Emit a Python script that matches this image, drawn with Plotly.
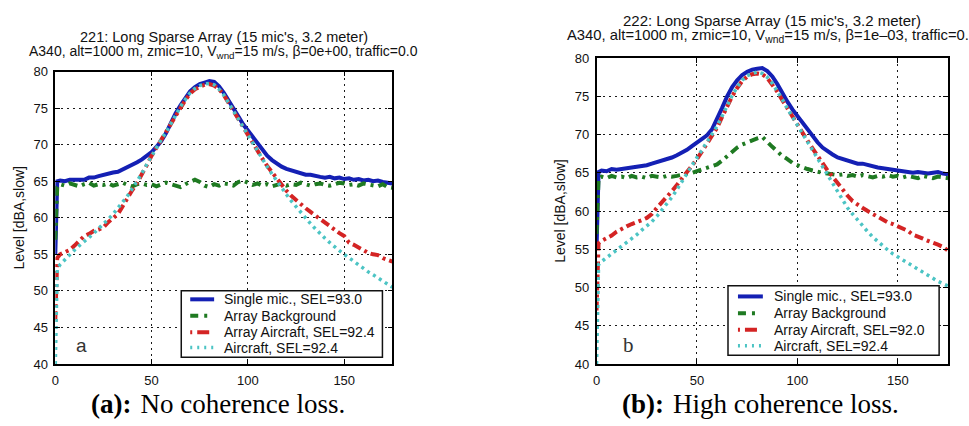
import plotly.graph_objects as go

W, H = 969, 426

# Shared sampling positions along the flyover (time axis, s)
x_pos = [0, 1, 2.5, 5, 7.5, 10, 12.5, 15, 17.5, 20, 22.5, 25, 27.5, 30, 32.5, 35,
         37.5, 40, 42.5, 45, 47.5, 50, 52.5, 55, 57.5, 60, 62.5, 65, 67.5, 70,
         72.5, 75, 77.5, 80, 82.5, 85, 87.5, 90, 92.5, 95, 97.5, 100, 102.5, 105,
         107.5, 110, 112.5, 115, 117.5, 120, 122.5, 125, 127.5, 130, 132.5, 135,
         137.5, 140, 142.5, 145, 147.5, 150, 152.5, 155, 157.5, 160, 162.5, 165,
         167.5, 170, 172.5, 175]

# ---- (a) no coherence loss ----
a_single = [55.0, 65.0, 65.1, 65.0, 65.2, 65.2, 65.3, 65.2, 65.5, 65.5, 65.7, 65.9,
            66.0, 66.2, 66.3, 66.6, 66.9, 67.2, 67.6, 68.0, 68.5, 69.0, 69.7, 70.5,
            71.6, 73.0, 74.3, 75.4, 76.4, 77.3, 77.9, 78.3, 78.5, 78.7, 78.6, 78.0,
            77.1, 76.1, 75.0, 73.9, 72.8, 71.9, 71.0, 70.1, 69.3, 68.5, 67.9, 67.4,
            67.0, 66.7, 66.5, 66.3, 66.1, 65.9, 65.9, 65.7, 65.6, 65.5, 65.6, 65.4,
            65.5, 65.3, 65.4, 65.2, 65.3, 65.1, 65.2, 65.0, 65.1, 64.9, 64.8, 64.7]
a_background = [57.0, 64.2, 64.6, 64.4, 64.7, 64.5, 64.3, 64.6, 64.8, 64.4, 64.6,
                64.5, 64.7, 64.4, 64.6, 64.8, 64.5, 64.3, 64.6, 64.7, 64.5, 64.6,
                64.3, 64.5, 64.8, 64.6, 64.4, 64.2, 64.6, 64.9, 65.2, 64.9, 64.4,
                64.2, 64.6, 64.4, 64.7, 64.6, 64.4, 64.9, 65.1, 64.8, 64.5, 64.7,
                64.4, 64.6, 64.3, 64.5, 64.7, 64.4, 64.6, 64.5, 64.8, 64.6, 64.4,
                64.6, 64.7, 64.5, 64.4, 64.6, 64.8, 64.7, 64.5, 64.6, 64.4, 64.7,
                64.6, 64.5, 64.3, 64.6, 64.2, 64.1]
a_array_ac = [46.0, 54.5, 55.0, 55.3, 55.6, 56.2, 56.8, 57.5, 57.8, 58.2, 58.4,
              58.7, 59.4, 60.0, 60.5, 61.6, 62.8, 63.8, 64.8, 65.9, 67.2, 68.5,
              69.6, 70.6, 71.6, 72.8, 74.0, 75.1, 76.1, 77.0, 77.6, 77.9, 78.2,
              78.3, 78.1, 77.6, 76.8, 75.7, 74.6, 73.4, 72.3, 71.3, 70.2, 69.2,
              68.1, 67.1, 66.2, 65.4, 64.6, 63.7, 63.0, 62.4, 61.8, 61.3, 60.8,
              60.3, 59.9, 59.4, 58.9, 58.3, 57.9, 57.5, 56.6, 56.3, 55.9, 55.5,
              55.2, 55.0, 54.9, 54.5, 54.3, 54.0]
a_aircraft = [40.0, 53.0, 53.6, 54.3, 55.0, 55.6, 56.2, 56.7, 57.3, 57.9, 58.5,
              59.1, 59.8, 60.5, 61.3, 62.1, 63.0, 64.0, 65.0, 66.1, 67.3, 68.5,
              69.6, 70.7, 71.7, 72.9, 74.1, 75.2, 76.2, 77.1, 77.7, 78.1, 78.3,
              78.4, 78.2, 77.6, 76.8, 75.7, 74.6, 73.4, 72.3, 71.2, 70.1, 69.1,
              68.0, 67.0, 66.0, 65.0, 64.1, 63.2, 62.3, 61.5, 60.7, 59.9, 59.2,
              58.5, 57.8, 57.2, 56.6, 56.0, 55.5, 55.0, 54.5, 54.0, 53.5, 53.1,
              52.6, 52.2, 51.8, 51.3, 50.9, 50.5]

# ---- (b) high coherence loss ----
b_single = [55.0, 65.1, 65.3, 65.2, 65.5, 65.4, 65.5, 65.6, 65.6, 65.8, 65.9, 66.0,
            66.2, 66.4, 66.5, 66.8, 67.0, 67.3, 67.6, 68.0, 68.5, 69.0, 69.4, 69.9,
            70.7, 72.0, 73.5, 75.0, 76.2, 77.1, 77.8, 78.2, 78.5, 78.6, 78.7, 78.3,
            77.6, 76.6, 75.4, 74.3, 73.3, 72.4, 71.5, 70.6, 69.8, 69.0, 68.3, 67.8,
            67.4, 67.0, 66.8, 66.6, 66.4, 66.2, 66.2, 66.0, 65.9, 65.7, 65.6, 65.5,
            65.4, 65.3, 65.3, 65.2, 65.0, 65.1, 65.0, 64.9, 65.0, 65.1, 64.9, 64.8]
b_background = [57.0, 64.3, 64.5, 64.3, 64.6, 64.4, 64.5, 64.3, 64.6, 64.4, 64.5,
                64.3, 64.6, 64.5, 64.4, 64.6, 64.5, 64.6, 64.8, 64.9, 65.0, 65.2,
                65.4, 65.6, 65.8, 66.1, 66.6, 67.2, 67.8, 68.3, 68.7, 69.0, 69.2,
                69.5, 69.7, 69.0, 68.4, 67.8, 67.2, 66.8, 66.3, 66.0, 65.7, 65.5,
                65.3, 65.1, 65.0, 64.9, 64.8, 64.7, 64.8, 64.6, 64.7, 64.5, 64.7,
                64.6, 64.4, 64.6, 64.5, 64.7, 64.5, 64.6, 64.4, 64.6, 64.5, 64.3,
                64.6, 64.5, 64.3, 64.5, 64.4, 64.3]
b_array_ac = [47.0, 55.8, 56.1, 56.4, 56.8, 57.3, 57.7, 58.0, 58.3, 58.5, 58.8,
              59.1, 59.6, 60.4, 61.1, 61.8, 62.6, 63.4, 64.2, 65.0, 65.9, 66.8,
              67.8, 68.8, 69.7, 70.9, 72.3, 73.7, 75.0, 76.1, 77.0, 77.6, 77.9,
              78.0, 77.9, 77.4, 76.6, 75.6, 74.5, 73.4, 72.3, 71.2, 70.2, 69.2,
              68.2, 67.2, 66.2, 65.3, 64.5, 63.6, 62.8, 62.0, 61.3, 60.8, 60.4,
              60.0, 59.6, 59.2, 58.8, 58.5, 58.3, 58.0, 57.7, 57.4, 56.9, 56.7,
              56.4, 56.1, 55.9, 55.6, 55.3, 54.8]
b_aircraft = [40.0, 53.0, 53.4, 53.9, 54.4, 54.9, 55.3, 55.8, 56.4, 56.9, 57.5,
              58.0, 58.6, 59.3, 60.1, 60.9, 61.8, 62.8, 63.9, 65.0, 66.0, 67.0,
              68.0, 69.0, 70.0, 71.1, 72.4, 73.8, 75.1, 76.2, 77.1, 77.7, 78.0,
              78.2, 78.0, 77.5, 76.7, 75.7, 74.6, 73.4, 72.3, 71.2, 70.1, 69.0,
              67.9, 66.8, 65.7, 64.6, 63.5, 62.4, 61.4, 60.4, 59.6, 58.8, 58.0,
              57.3, 56.6, 56.0, 55.4, 54.9, 54.4, 54.0, 53.5, 53.1, 52.7, 52.3,
              51.9, 51.5, 51.1, 50.8, 50.5, 50.2]

labels_a = ["Single mic., SEL=93.0", "Array Background",
            "Array Aircraft, SEL=92.4", "Aircraft, SEL=92.4"]
labels_b = ["Single mic., SEL=93.0", "Array Background",
            "Array Aircraft, SEL=92.0", "Aircraft, SEL=92.4"]

x_ticks = [0, 50, 100, 150]
y_ticks = [40, 45, 50, 55, 60, 65, 70, 75, 80]

titles_a = ["221: Long Sparse Array (15 mic's, 3.2 meter)",
            "A340, alt=1000 m, zmic=10, V<sub>wnd</sub>=15 m/s, β=0e+00, traffic=0.0"]
titles_b = ["222: Long Sparse Array (15 mic's, 3.2 meter)",
            "A340, alt=1000 m, zmic=10, V<sub>wnd</sub>=15 m/s, β=1e–03, traffic=0.0"]

captions = ["<b>(a):</b> \u200aNo coherence loss.", "<b>(b):</b> \u200aHigh coherence loss."]

styles = [
    dict(color="#1420b4", width=4, dash="solid"),
    dict(color="#1f7a22", width=4, dash="9px,5px,3px,5px"),
    dict(color="#d42424", width=4, dash="9px,4px,3px,4px"),
    dict(color="#4cc4c4", width=3.5, dash="3px,4px"),
]
# Short legend keys: (dash pattern) for the sample segments
key_dash = ["solid", "8px,6px,3px,20px", "2px,5px,12px,20px", "2px,5px"]

SANS = "Liberation Sans, Arial, sans-serif"
SERIF = "Liberation Serif, Times New Roman, serif"
INK = "#111111"


def px_x(p):
    return p / W


def px_y(p):
    return 1 - p / H


fig = go.Figure()

panels = [
    ("x", "y", [a_single, a_background, a_array_ac, a_aircraft], labels_a),
    ("x2", "y2", [b_single, b_background, b_array_ac, b_aircraft], labels_b),
]
for xa, ya, series, labels in panels:
    for vals, name, st in zip(series, labels, styles):
        fig.add_trace(go.Scatter(x=x_pos, y=vals, name=name, mode="lines",
                                 line=st, xaxis=xa, yaxis=ya, showlegend=False))

axis_common = dict(
    showline=True, linecolor="black", linewidth=1.5, mirror="ticks",
    ticks="inside", ticklen=5, tickwidth=1.2, tickcolor="black",
    showgrid=True, gridcolor="#1a1a1a", gridwidth=1.4, griddash="2px,4px",
    zeroline=False, tickfont=dict(family=SANS, size=13, color=INK),
)
ytitle = dict(text="Level [dBA,slow]", standoff=6,
              font=dict(family=SANS, size=14, color=INK))

fig.update_layout(
    width=W, height=H, margin=dict(l=0, r=0, t=0, b=0),
    paper_bgcolor="white", plot_bgcolor="white", showlegend=False,
    xaxis=dict(domain=[px_x(51.5), px_x(390)], range=[0, 175], anchor="y",
               tickvals=x_ticks, ticklabelstandoff=4, **axis_common),
    yaxis=dict(domain=[px_y(370), px_y(67)], range=[40, 80], anchor="x",
               tickvals=y_ticks, ticklabelstandoff=3, title=ytitle, **axis_common),
    xaxis2=dict(domain=[px_x(595), px_x(948)], range=[0, 175], anchor="y2",
                tickvals=x_ticks, ticklabelstandoff=4, **axis_common),
    yaxis2=dict(domain=[px_y(370), px_y(53)], range=[40, 80], anchor="x2",
                tickvals=y_ticks, ticklabelstandoff=3, title=ytitle, **axis_common),
)

annotations = []
shapes = []

# Panel titles (two lines each)
title_specs = [
    (220.5, [(31, 14.5), (47, 14.0)], titles_a),
    (771.5, [(14, 15.0), (30, 14.8)], titles_b),
]
for cx, rows, lines in title_specs:
    for (yy, fs), txt in zip(rows, lines):
        annotations.append(dict(text=txt, x=px_x(cx), y=px_y(yy), xref="paper", yref="paper",
                                xanchor="center", yanchor="middle", showarrow=False,
                                font=dict(family=SANS, size=fs, color=INK)))

# Legend boxes: (box l, t, r, b), key x-range, text x, row centres
legend_specs = [
    ((178, 294, 380, 363), (187, 211), 219, [303, 320, 337, 353], labels_a),
    ((727, 289, 939, 361), (737, 762), 771, [300, 317.5, 334.5, 351], labels_b),
]
for (l, t, r, b), (k0, k1), tx, rows, labels in legend_specs:
    shapes.append(dict(type="rect", xref="paper", yref="paper",
                       x0=px_x(l), x1=px_x(r), y0=px_y(b), y1=px_y(t),
                       line=dict(color="#111111", width=1.5), fillcolor="white", layer="above"))
    for yy, name, st, kd in zip(rows, labels, styles, key_dash):
        shapes.append(dict(type="line", xref="paper", yref="paper",
                           x0=px_x(k0), x1=px_x(k1), y0=px_y(yy), y1=px_y(yy),
                           line=dict(color=st["color"], width=st["width"], dash=kd),
                           layer="above"))
        annotations.append(dict(text=name, x=px_x(tx), y=px_y(yy), xref="paper", yref="paper",
                                xanchor="left", yanchor="middle", showarrow=False,
                                font=dict(family=SANS, size=14, color=INK)))

# Panel letters inside the axes
annotations.append(dict(text="a", x=13.5, y=42.5, xref="x", yref="y", showarrow=False,
                        font=dict(family=SANS, size=19, color="#333333")))
annotations.append(dict(text="b", x=15.9, y=42.5, xref="x2", yref="y2", showarrow=False,
                        font=dict(family=SERIF, size=21, color="#333333")))

# Sub-figure captions
for cx, txt in [(215, captions[0]), (760, captions[1])]:
    annotations.append(dict(text=txt, x=px_x(cx), y=px_y(412), xref="paper", yref="paper",
                            xanchor="center", yanchor="middle", showarrow=False,
                            font=dict(family=SERIF, size=27, color="black")))

fig.update_layout(annotations=annotations, shapes=shapes)

fig.write_html("out.html")
